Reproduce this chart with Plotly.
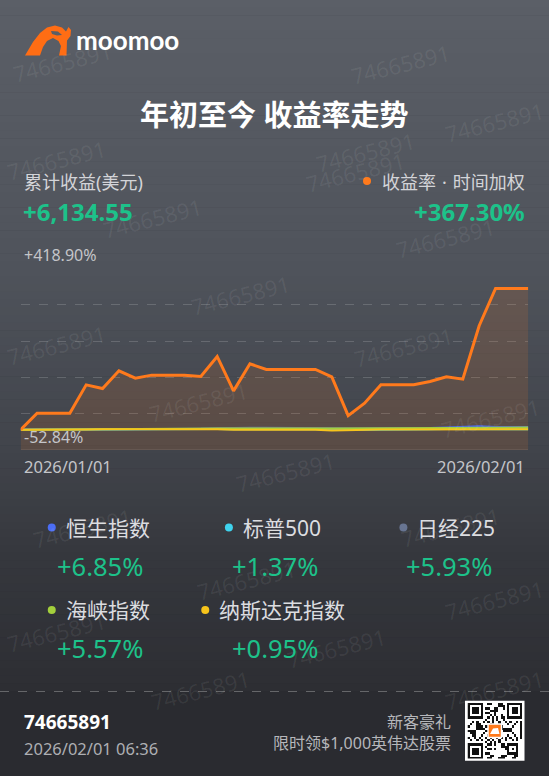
import plotly.graph_objects as go
import pandas as pd

# ---------------- data ----------------
dates = pd.date_range("2026-01-01", "2026-02-01", freq="D").strftime("%Y-%m-%d").tolist()

twr_return = [0, 42.7, 42.7, 42.7, 116.6, 107.0, 153.0, 133.9, 141.8, 141.8, 141.8,
              138.3, 190.4, 100.9, 171.3, 156.5, 156.5, 156.5, 156.5, 137.5, 36.6,
              68.8, 116.6, 116.6, 116.6, 125.2, 137.4, 131.3, 270.3, 367.30, 367.30, 367.30]

hsi = [0, 0.3, 0.3, 0.3, 1.2, 1.6, 1.1, 0.8, 1.3, 1.3, 1.3, 2.4, 3.1, 3.4, 3.0, 3.3, 3.3, 3.3,
       2.6, 2.1, 1.5, 2.2, 2.9, 2.9, 2.9, 4.1, 5.5, 7.9, 8.6, 6.85, 6.85, 6.85]
spx = [0, 0.2, 0.2, 0.2, 0.8, 1.4, 1.0, 1.5, 2.1, 2.1, 2.1, 1.9, 1.7, 1.2, 1.5, 1.4, 1.4, 1.4,
       1.4, -0.7, -0.1, 0.5, 0.6, 0.6, 0.6, 1.1, 1.5, 1.8, 1.5, 1.37, 1.37, 1.37]
n225 = [0, 0, 0, 0, -0.5, 1.2, 2.0, 1.9, 2.5, 2.5, 2.5, 2.5, 4.0, 5.2, 5.0, 4.8, 4.8, 4.8,
        4.5, 3.5, 2.8, 3.2, 3.0, 3.0, 3.0, 4.2, 5.0, 5.8, 6.4, 5.93, 5.93, 5.93]
sti = [0, 0.4, 0.4, 0.4, 1.0, 1.3, 1.5, 1.9, 2.2, 2.2, 2.2, 2.6, 2.9, 3.1, 3.4, 3.6, 3.6, 3.6,
       3.3, 3.0, 3.1, 3.5, 3.9, 3.9, 3.9, 4.3, 4.6, 5.0, 5.3, 5.57, 5.57, 5.57]
ndx = [0, -0.3, -0.3, -0.3, 0.5, 1.1, 0.6, 0.2, 1.0, 1.0, 1.0, 1.2, 0.9, -0.5, -0.2, 0.1, 0.1, 0.1,
       0.1, -2.1, -1.0, 0.3, 0.4, 0.4, 0.4, 0.9, 1.8, 2.0, 0.8, 0.95, 0.95, 0.95]

index_names = ["恒生指数", "标普500", "日经225", "海峡指数", "纳斯达克指数"]
index_series = [hsi, spx, n225, sti, ndx]
index_returns = [6.85, 1.37, 5.93, 5.57, 0.95]
index_colors = ["#4b6df5", "#3fd3ee", "#687592", "#a3cf3c", "#f7c41b"]

y_max = 418.90
y_min = -52.84
total_profit = 6134.55
account_id = "74665891"
timestamp = "2026/02/01 06:36"

W, H = 549, 776
GREEN = "#1dc28a"
ORANGE = "#ff7a1c"
FONT = "Noto Sans, Noto Sans CJK SC, sans-serif"


def px(x):
    return x / W


def py(y):
    return 1 - y / H


fig = go.Figure()

# ---------------- background gradient ----------------
stops = [(0, (91, 95, 103)), (270, (79, 83, 91)), (450, (65, 68, 75)),
         (560, (53, 55, 61)), (691, (45, 46, 51))]
shapes = []
nb = 90
for k in range(nb):
    y0 = 691 * k / nb
    y1 = 691 * (k + 1) / nb
    ym = (y0 + y1) / 2
    for (a, ca), (b, cb) in zip(stops[:-1], stops[1:]):
        if a <= ym <= b:
            t = (ym - a) / (b - a)
            c = tuple(int(round(ca[i] + (cb[i] - ca[i]) * t)) for i in range(3))
            break
    shapes.append(dict(type="rect", xref="paper", yref="paper", x0=0, x1=1,
                       y0=py(y1 + 0.5), y1=py(y0), fillcolor="rgb(%d,%d,%d)" % c,
                       line=dict(width=0), layer="below"))
shapes.append(dict(type="rect", xref="paper", yref="paper", x0=0, x1=1, y0=0, y1=py(691),
                   fillcolor="rgb(42,43,48)", line=dict(width=0), layer="below"))
shapes.append(dict(type="line", xref="paper", yref="paper", x0=0, x1=1, y0=py(691.5), y1=py(691.5),
                   line=dict(color="rgba(255,255,255,0.28)", width=1, dash="dash"), layer="below"))

# ---------------- traces ----------------
fig.add_trace(go.Scatter(x=dates, y=[y_min] * len(dates), mode="lines",
                         line=dict(width=0), hoverinfo="skip", showlegend=False))
fig.add_trace(go.Scatter(x=dates, y=twr_return, mode="lines", line=dict(width=0),
                         fill="tonexty", fillcolor="rgba(255,122,28,0.13)",
                         hoverinfo="skip", showlegend=False))
for name, s, col in zip(index_names, index_series, index_colors):
    fig.add_trace(go.Scatter(x=dates, y=s, mode="lines", name=name,
                             line=dict(color=col, width=2), showlegend=False))
fig.add_trace(go.Scatter(x=dates, y=twr_return, mode="lines", name="收益率",
                         line=dict(color=ORANGE, width=3), showlegend=False))

step = (y_max - y_min) / 5
grid_vals = [y_min + step * i for i in range(1, 6)]

fig.update_xaxes(domain=[px(20.7), px(528.3)], range=[dates[0], dates[-1]],
                 showgrid=False, zeroline=False, showticklabels=False, showline=False)
fig.update_yaxes(domain=[py(450), py(268.6)], range=[y_min, y_max], tickvals=grid_vals,
                 showgrid=True, gridcolor="rgba(255,255,255,0.16)", griddash="dash", gridwidth=1,
                 zeroline=False, showticklabels=False, showline=False)
shapes.append(dict(type="line", xref="x", yref="y", x0=dates[0], x1=dates[-1], y0=y_min, y1=y_min,
                   line=dict(color="rgba(255,255,255,0.16)", width=1), layer="below"))

# ---------------- QR code (decorative) ----------------
n = 25
qr = [[0] * n for _ in range(n)]
for i in range(n):
    for j in range(n):
        qr[i][j] = 1 if ((i * 7 + j * 13 + i * j * 3 + (i ^ j)) % 5) < 2 else 0


def finder(r0, c0):
    for i in range(7):
        for j in range(7):
            edge = i in (0, 6) or j in (0, 6)
            core = 2 <= i <= 4 and 2 <= j <= 4
            qr[r0 + i][c0 + j] = 1 if (edge or core) else 0
    for k in range(-1, 8):
        for (a, b) in ((r0 + 7, c0 + k), (r0 - 1, c0 + k), (r0 + k, c0 + 7), (r0 + k, c0 - 1)):
            if 0 <= a < n and 0 <= b < n:
                qr[a][b] = 0


finder(0, 0)
finder(0, n - 7)
finder(n - 7, 0)
for i in range(18, 23):
    for j in range(18, 23):
        qr[i][j] = 1 if (i in (18, 22) or j in (18, 22) or (i == 20 and j == 20)) else 0
qr_rev = qr[::-1]
fig.add_trace(go.Heatmap(z=qr_rev, xaxis="x2", yaxis="y2", showscale=False,
                         colorscale=[[0, "white"], [1, "#111111"]], hoverinfo="skip"))
fig.update_layout(
    xaxis2=dict(domain=[px(467.5), px(522)], range=[-0.5, n - 0.5], visible=False, anchor="y2"),
    yaxis2=dict(domain=[py(758.5), py(703)], range=[-0.5, n - 0.5], visible=False, anchor="x2"),
)
shapes.append(dict(type="rect", xref="paper", yref="paper", x0=px(465), x1=px(524.5),
                   y0=py(760.7), y1=py(700.7), fillcolor="white", line=dict(width=0), layer="below"))
shapes.append(dict(type="rect", xref="paper", yref="paper", x0=px(488), x1=px(501.5),
                   y0=py(737.5), y1=py(724), fillcolor=ORANGE, line=dict(color="white", width=1.5),
                   layer="above"))
shapes.append(dict(type="path", xref="paper", yref="paper",
                   path="M %f %f L %f %f L %f %f L %f %f Z" % (px(490), py(734), px(493), py(728.5),
                                                              px(498), py(728), px(499.5), py(734)),
                   fillcolor="white", line=dict(width=0), layer="above"))

# ---------------- logo ----------------
logo_pts = [(25, 55.5), (33, 42), (40, 33), (47, 27.5), (55, 25.5), (62, 27.5), (66, 31.5),
            (68.5, 27), (71, 30), (70.5, 36), (67, 40.5), (66.5, 55.5), (59, 55.5),
            (61, 46), (58.5, 41), (53, 38), (47, 41), (43, 47), (40, 55.5)]
path = "M " + " L ".join("%f %f" % (px(a), py(b)) for a, b in logo_pts) + " Z"
shapes.append(dict(type="path", xref="paper", yref="paper", path=path,
                   fillcolor="#ff6d14", line=dict(width=0), layer="above"))
inner = [(51, 31), (58, 31.5), (62, 35), (57, 35.5), (52, 34)]
path2 = "M " + " L ".join("%f %f" % (px(a), py(b)) for a, b in inner) + " Z"
shapes.append(dict(type="path", xref="paper", yref="paper", path=path2,
                   fillcolor="#5a5e66", line=dict(width=0), layer="above"))

ann = []


def text(x, y, s, size, color, xanchor="left", bold=False, yanchor="middle", angle=0, family=FONT):
    ann.append(dict(xref="paper", yref="paper", x=px(x), y=py(y), text=("<b>%s</b>" % s) if bold else s,
                    showarrow=False, xanchor=xanchor, yanchor=yanchor, textangle=angle,
                    font=dict(size=size, color=color, family=family), borderpad=0))


# watermarks
wm_pos = [(62, 62), (400, 64), (494, 122), (56, 160), (365, 152), (152, 218), (355, 172), (445, 238),
          (240, 295), (56, 345), (403, 347), (198, 402), (490, 418), (285, 472),
          (82, 528), (450, 527), (246, 580), (494, 600), (56, 632), (336, 648), (494, 690), (200, 690)]
for (x, y) in wm_pos:
    text(x, y, account_id, 22, "rgba(255,255,255,0.07)", xanchor="center", angle=-14)

text(75, 40, "moomoo", 26, "white", bold=True, family="Lato, Noto Sans, sans-serif")
text(274, 114, "年初至今 收益率走势", 29, "white", xanchor="center", bold=True)

text(23, 182, "累计收益(美元)", 18, "#d3d4d8")
text(22, 211.5, "+{:,.2f}".format(total_profit), 24, GREEN, bold=True)
shapes.append(dict(type="circle", xref="paper", yref="paper", x0=px(363), x1=px(371),
                   y0=py(185), y1=py(177), fillcolor=ORANGE, line=dict(width=0)))
text(526, 182, "收益率\u2004·\u2004时间加权", 18, "#d3d4d8", xanchor="right")
text(526, 211.5, "+{:.2f}%".format(twr_return[-1]), 24, GREEN, xanchor="right", bold=True)

text(23, 255, "{:+.2f}%".format(y_max), 16, "#c4c5c9")
text(23, 437, "{:+.2f}%".format(y_min), 16, "#c4c5c9")
text(23, 466, dates[0].replace("-", "/"), 16.5, "#c4c5c9")
text(526, 466, dates[-1].replace("-", "/"), 16.5, "#c4c5c9", xanchor="right")

col_centers = [99.5, 274.5, 449]
label_rows = [527.5, 610]
value_rows = [566, 647.5]
for k, (name, ret, col) in enumerate(zip(index_names, index_returns, index_colors)):
    r, c = divmod(k, 3)
    cx = col_centers[c]
    w = sum(1.0 if ord(ch) > 255 else 0.6 for ch in name) * 21.5
    start = cx - (17.5 + w) / 2 + 17.5
    shapes.append(dict(type="circle", xref="paper", yref="paper", x0=px(start - 17.5), x1=px(start - 9.5),
                       y0=py(label_rows[r] + 4), y1=py(label_rows[r] - 4), fillcolor=col, line=dict(width=0)))
    text(start - 0.5, label_rows[r], name, 21, "#dcdde0")
    text(cx + 0.5, value_rows[r], "{:+.2f}%".format(ret), 25.5, GREEN, xanchor="center")

text(23, 722, account_id, 19, "white", bold=True)
text(23, 748, timestamp, 16.5, "#aeafb3")
text(452, 721.5, "新客豪礼", 16, "#b6b7bb", xanchor="right")
text(452, 743, "限时领$1,000英伟达股票", 16, "#b6b7bb", xanchor="right")

fig.update_layout(width=W, height=H, margin=dict(l=0, r=0, t=0, b=0),
                  paper_bgcolor="rgb(42,43,48)", plot_bgcolor="rgba(0,0,0,0)",
                  shapes=shapes, annotations=ann, showlegend=False, hovermode=False)

fig.write_html("out.html", config={"displayModeBar": False})
